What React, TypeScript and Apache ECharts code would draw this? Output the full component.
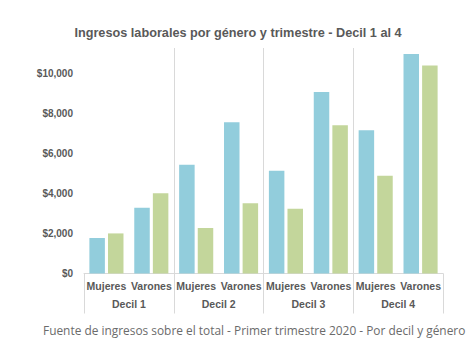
import React, { useEffect, useRef } from "react";
import * as echarts from "echarts";

const subCategories = ["Mujeres", "Varones", "Mujeres", "Varones", "Mujeres", "Varones", "Mujeres", "Varones"];
const deciles = ["Decil 1", "Decil 2", "Decil 3", "Decil 4"];
const serieAzul = [1770, 3280, 5430, 7540, 5130, 9050, 7150, 10950];
const serieVerde = [2000, 4000, 2270, 3500, 3230, 7400, 4880, 10380];
const yTicks = [0, 2000, 4000, 6000, 8000, 10000];

const titleText = "Ingresos laborales por género y trimestre - Decil 1 al 4";
const footerText = "Fuente de ingresos sobre el total - Primer trimestre 2020 - Por decil y género";

export default function App() {
  const ref = useRef<HTMLDivElement>(null);
  useEffect(() => {
    document.body.style.margin = "0";
    if (!ref.current) return;
    const chart = echarts.init(ref.current, null, { renderer: "svg" });
    chart.setOption({
      animation: false,
      title: [
        {
          text: titleText,
          left: "center",
          top: 21,
          textStyle: { fontFamily: "Liberation Sans", fontSize: 12.7, fontWeight: "bold", color: "#595959" },
        },
        {
          text: footerText,
          left: 38,
          top: 319,
          textStyle: { fontFamily: "Open Sans", fontSize: 11.9, fontWeight: "normal", color: "#6b6b6b" },
        },
      ],
      grid: { left: 84, right: 33, top: 48, bottom: 86.5, containLabel: false },
      xAxis: [
        {
          type: "category",
          data: subCategories,
          position: "bottom",
          axisLine: { show: false },
          axisTick: { show: false },
          axisLabel: {
            interval: 0,
            margin: 7,
            fontFamily: "Liberation Sans",
            fontSize: 10.5,
            fontWeight: "bold",
            color: "#595959",
          },
        },
        {
          type: "category",
          data: deciles,
          position: "bottom",
          axisLine: { show: true, lineStyle: { color: "#d9d9d9", width: 1 } },
          axisTick: { show: true, interval: 0, length: 40, lineStyle: { color: "#d9d9d9" } },
          splitLine: {
            show: true,
            interval: 0,
            showMinLine: false,
            showMaxLine: false,
            lineStyle: { color: "#d9d9d9", width: 1 },
          },
          axisLabel: {
            interval: 0,
            margin: 25,
            fontFamily: "Liberation Sans",
            fontSize: 10.5,
            fontWeight: "bold",
            color: "#595959",
          },
        },
      ],
      yAxis: {
        type: "value",
        min: yTicks[0],
        max: 11250,
        interval: 2000,
        axisLine: { show: false },
        axisTick: { show: false },
        splitLine: { show: false },
        axisLabel: {
          margin: 11,
          fontFamily: "Liberation Sans",
          fontSize: 10,
          fontWeight: "bold",
          color: "#595959",
          formatter: (v: number) => (yTicks.includes(v) ? "$" + v.toLocaleString("en-US") : ""),
        },
      },
      series: [
        {
          type: "bar",
          xAxisIndex: 0,
          data: serieAzul,
          barWidth: 15.5,
          barGap: "20%",
          itemStyle: { color: "#92cddc" },
        },
        {
          type: "bar",
          xAxisIndex: 0,
          data: serieVerde,
          barWidth: 15.5,
          barGap: "20%",
          itemStyle: { color: "#c3d69b" },
        },
      ],
    });
    return () => chart.dispose();
  }, []);
  return <div ref={ref} style={{ width: 476, height: 360 }} />;
}
